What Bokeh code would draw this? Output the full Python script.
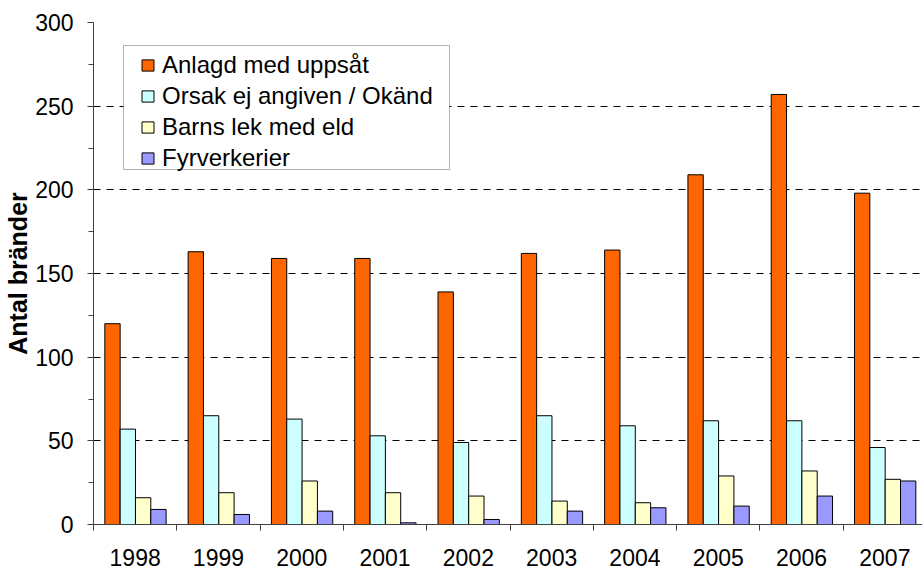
from bokeh.plotting import figure
from bokeh.models import FixedTicker, Range1d, Legend, LegendItem, ColumnDataSource, BoxAnnotation
from bokeh.embed import file_html
from bokeh.resources import INLINE

years = ["1998", "1999", "2000", "2001", "2002", "2003", "2004", "2005", "2006", "2007"]
series_names = ["Anlagd med uppsåt", "Orsak ej angiven / Okänd", "Barns lek med eld", "Fyrverkerier"]
anlagd = [120, 163, 159, 159, 139, 162, 164, 209, 257, 198]
okand = [57, 65, 63, 53, 49, 65, 59, 62, 62, 46]
barns_lek = [16, 19, 26, 19, 17, 14, 13, 29, 32, 27]
fyrverkerier = [9, 6, 8, 1, 3, 8, 10, 11, 17, 26]
colors = ["#FF6600", "#CCFFFF", "#FFFFCC", "#9999FF"]
y_ticks = [0, 50, 100, 150, 200, 250, 300]

FONT = "Liberation Sans"

W, H = 922, 572
LEFT, TOP, BOTTOM = 93, 22, 524
cat_px = 83.3
x_end = 0.5 + (W - LEFT) / cat_px

p = figure(width=W, height=H, output_backend="svg", toolbar_location=None,
           x_range=Range1d(0.5, x_end), y_range=Range1d(0, 300),
           min_border_left=LEFT, min_border_right=0, min_border_top=TOP,
           min_border_bottom=H - BOTTOM)
p.outline_line_color = None
p.background_fill_color = "white"
p.border_fill_color = "white"

bar_w = 0.184
all_series = [anlagd, okand, barns_lek, fyrverkerier]
items = []
for k, (vals, col, name) in enumerate(zip(all_series, colors, series_names)):
    xs = [i + 1 + (k - 1.5) * bar_w + 0.004 for i in range(len(years))]
    src = ColumnDataSource(dict(x=xs, top=vals))
    r = p.vbar(x="x", top="top", bottom=0, width=bar_w, source=src,
               fill_color=col, line_color="black", line_width=1)
    items.append(LegendItem(label=name, renderers=[r]))

# x axis
p.xaxis.ticker = FixedTicker(ticks=list(range(1, len(years) + 1)),
                             minor_ticks=[i + 0.5 for i in range(len(years) + 1)])
p.xaxis.major_label_overrides = {i + 1: y for i, y in enumerate(years)}
p.xaxis.major_tick_out = 0
p.xaxis.major_tick_in = 0
p.xaxis.minor_tick_out = 6
p.xaxis.minor_tick_in = 0
p.xaxis.axis_line_color = "#404040"
p.xaxis.minor_tick_line_color = "#404040"
p.xaxis.major_label_text_font = FONT
p.xaxis.major_label_text_font_size = "23px"
p.xaxis.major_label_text_color = "black"
p.xaxis.major_label_standoff = 18

# y axis
p.yaxis.ticker = FixedTicker(ticks=y_ticks, minor_ticks=list(range(0, 301, 25)))
p.yaxis.major_tick_out = 6
p.yaxis.major_tick_in = 0
p.yaxis.minor_tick_out = 5
p.yaxis.minor_tick_in = 0
p.yaxis.axis_line_color = "#404040"
p.yaxis.major_tick_line_color = "#404040"
p.yaxis.minor_tick_line_color = "#404040"
p.yaxis.major_label_text_font = FONT
p.yaxis.major_label_text_font_size = "23px"
p.yaxis.major_label_text_color = "black"
p.yaxis.major_label_standoff = 14
p.yaxis.axis_label = "Antal bränder"
p.yaxis.axis_label_text_font = FONT
p.yaxis.axis_label_text_font_size = "25px"
p.yaxis.axis_label_text_font_style = "bold"
p.yaxis.axis_label_text_color = "black"
p.yaxis.axis_label_standoff = 0

p.xgrid.grid_line_color = None
p.ygrid.grid_line_color = "black"
p.ygrid.grid_line_dash = "7 6"
p.ygrid.grid_line_width = 1

# legend frame (canvas pixels)
box = BoxAnnotation(left=123, right=449, top=45, bottom=169,
                    left_units="canvas", right_units="canvas",
                    top_units="canvas", bottom_units="canvas",
                    fill_color="white", fill_alpha=1,
                    line_color="black", line_width=1)
p.add_layout(box)

legend = Legend(items=items, location=(140 - LEFT, BOTTOM - 172))
legend.label_text_font = FONT
legend.label_text_font_size = "24px"
legend.label_text_color = "black"
legend.glyph_width = 15
legend.glyph_height = 14
legend.label_standoff = 7
legend.padding = 4
legend.spacing = 3
legend.border_line_color = None
legend.background_fill_alpha = 0
p.add_layout(legend, "center")

open("out.html", "w").write(file_html(p, INLINE))
